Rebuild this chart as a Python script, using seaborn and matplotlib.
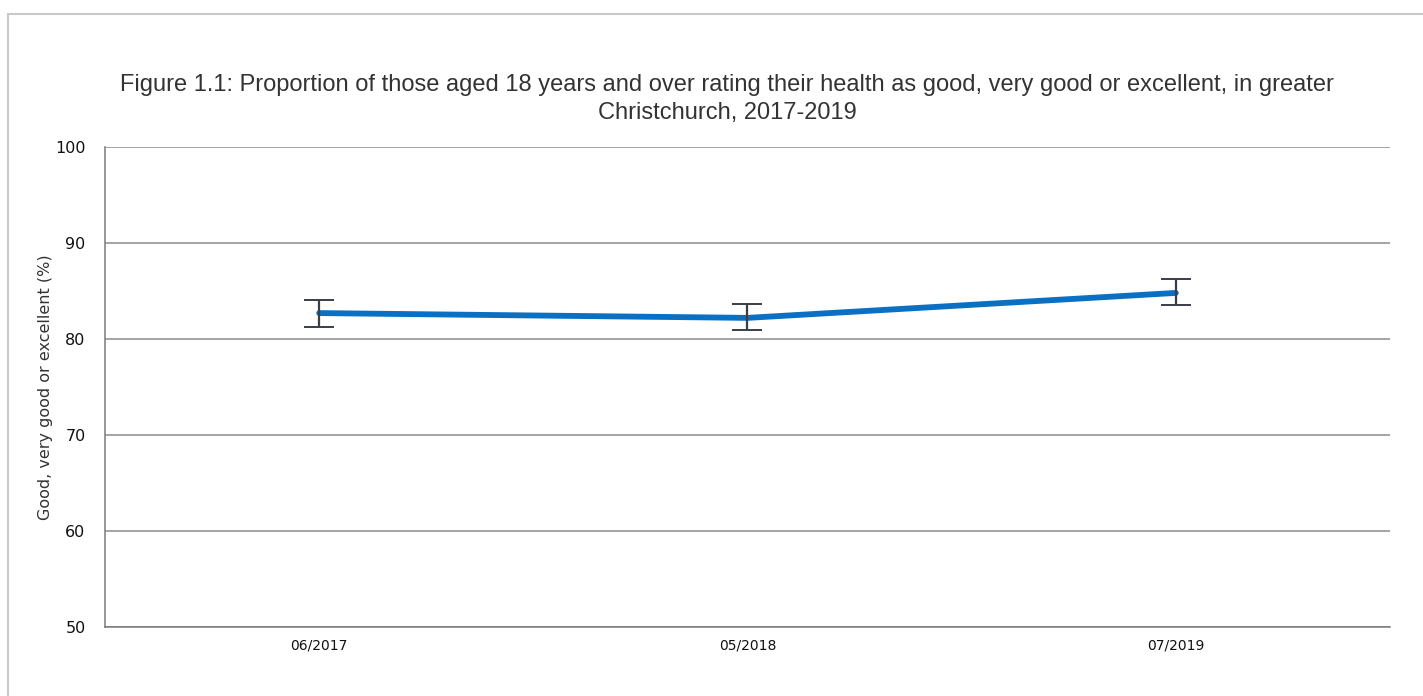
import numpy as np
import pandas as pd
import matplotlib
matplotlib.use("Agg")
import matplotlib.pyplot as plt
import seaborn as sns
from matplotlib.patches import Rectangle

# values
periods = ["06/2017", "05/2018", "07/2019"]
estimate = [82.7, 82.2, 84.8]
ci_lower = [81.3, 80.9, 83.5]
ci_upper = [84.1, 83.6, 86.2]
y_ticks = [50, 60, 70, 80, 90, 100]

sns.set_style("white")
plt.rcParams["font.family"] = ["Liberation Sans", "DejaVu Sans"]

df = pd.DataFrame({"period": periods, "estimate": estimate,
                   "lower": ci_lower, "upper": ci_upper})
df["pos"] = np.arange(len(df))

fig = plt.figure(figsize=(14.23, 6.96), dpi=100)
ax = fig.add_axes([105 / 1423, 1 - 627 / 696, 1285 / 1423, 480 / 696])

# outer frame of the figure box
fig.patches.append(Rectangle((8 / 1423, -0.1), 1.2, 0.1 + (1 - 14 / 696),
                             transform=fig.transFigure, fill=False,
                             edgecolor="#c8c8c8", lw=1.5, clip_on=False))

sns.lineplot(data=df, x="pos", y="estimate", ax=ax, color="#0a70c4",
             lw=4.2, solid_capstyle="round", zorder=3)
ax.errorbar(df["pos"], df["estimate"],
            yerr=[df["estimate"] - df["lower"], df["upper"] - df["estimate"]],
            fmt="none", ecolor="#3a3f47", elinewidth=1.6, capsize=11,
            capthick=1.4, zorder=4)

ax.set_xlim(-0.5, 2.5)
ax.set_ylim(50, 100)
ax.set_yticks(y_ticks)
ax.set_xticks(df["pos"])
ax.set_xticklabels(periods)
ax.yaxis.grid(True, color="#8c8c8c", lw=1.1)
ax.set_axisbelow(True)
for s in ["top", "right"]:
    ax.spines[s].set_visible(False)
for s in ["left", "bottom"]:
    ax.spines[s].set_color("#7a7a7a")
    ax.spines[s].set_linewidth(1.1)
ax.tick_params(axis="y", length=9, color="#7a7a7a", width=1.1, pad=5,
               labelsize=11.5, labelcolor="#111111")
ax.tick_params(axis="x", length=5, color="#7a7a7a", width=1.1, pad=3,
               labelsize=10, labelcolor="#111111")
for lbl in ax.get_xticklabels() + ax.get_yticklabels():
    lbl.set_family(["DejaVu Sans"])

ax.set_xlabel("")
ax.set_ylabel("Good, very good or excellent (%)", fontsize=11.5, color="#333333",
              family=["DejaVu Sans"])
ax.yaxis.set_label_coords(-52 / 1285, 0.5)

fig.text(727 / 1423, 1 - 99 / 696,
         "Figure 1.1: Proportion of those aged 18 years and over rating their health as good, very good or excellent, in greater\nChristchurch, 2017-2019",
         ha="center", va="center", fontsize=17, color="#333333", linespacing=1.4)

fig.savefig("out.png", dpi=100, facecolor="white")
